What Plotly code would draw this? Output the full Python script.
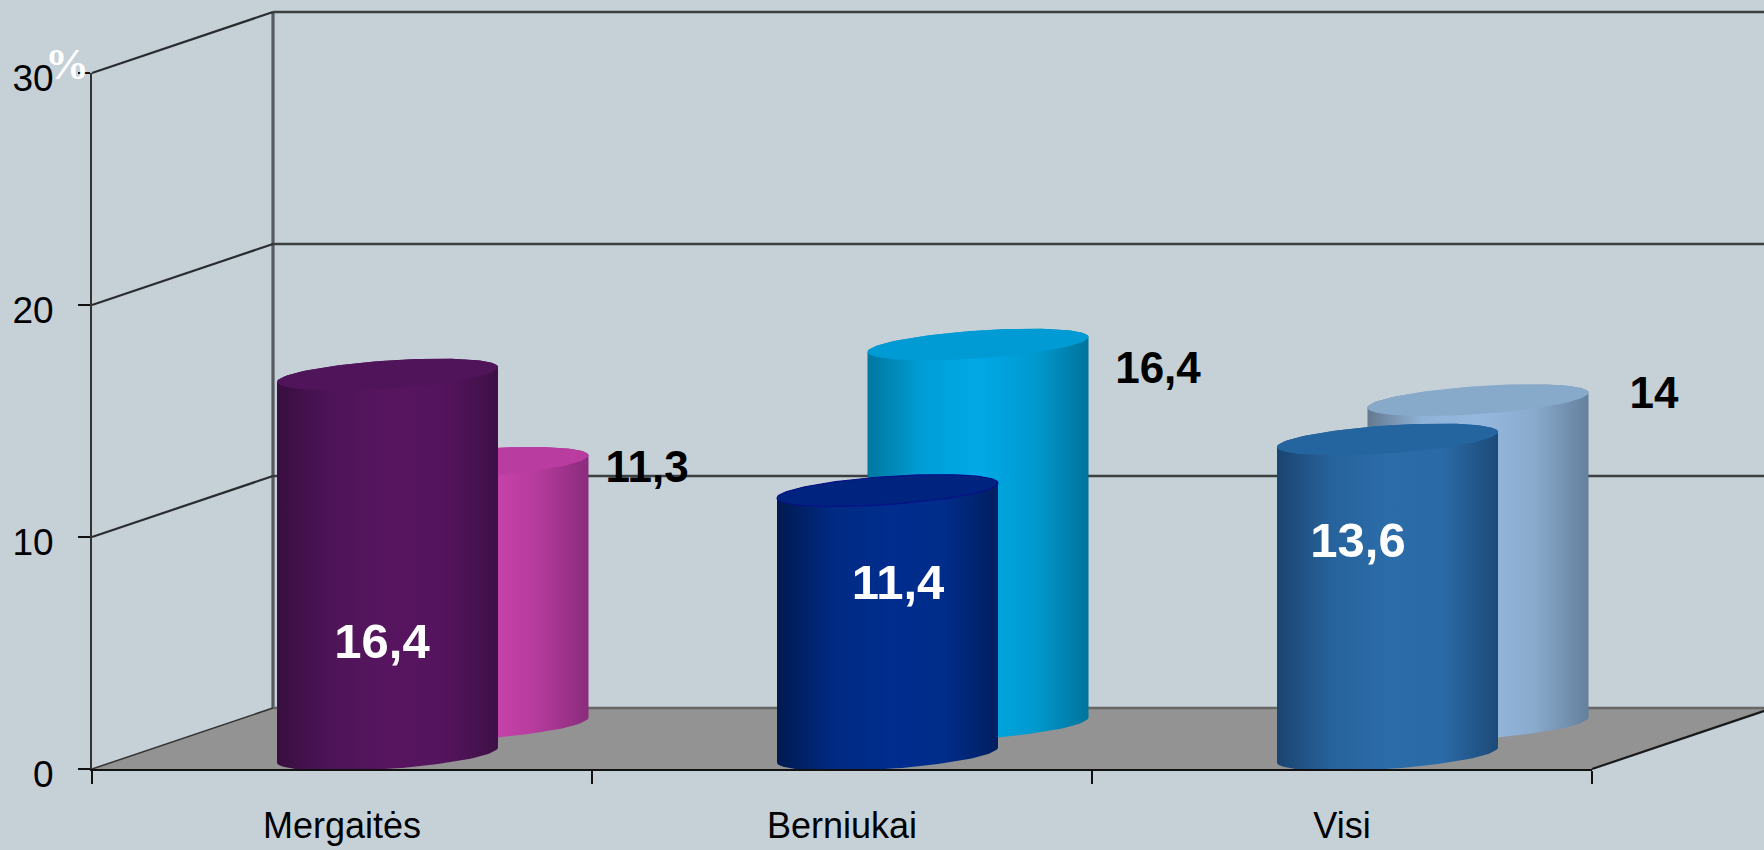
import numpy as np
import plotly.graph_objects as go

# ---- data ----
categories = ["Mergaitės", "Berniukai", "Visi"]
front_values = [16.4, 11.4, 13.6]
back_values = [11.3, 16.4, 14.0]
front_labels = ["16,4", "11,4", "13,6"]
back_labels = ["11,3", "16,4", "14"]
y_ticks = [0, 10, 20, 30]

# ---- styles ----
FRONT_STYLE = [
    dict(body=["#380e3f", "#4e1458", "#57155f", "#55145e", "#3e1046"], cap="#50145a", edge=None),
    dict(body=["#001a50", "#002a82", "#002d8e", "#002c8a", "#001f60"], cap="#00237f", edge="#0a1086"),
    dict(body=["#1a4470", "#27639c", "#2b6ca9", "#2a6aa6", "#1c4a78"], cap="#25659f", edge=None),
]
BACK_STYLE = [
    dict(body=["#7a2570", "#c03fa6", "#cc44b0", "#b83c9e", "#8a2c7c"], cap="#b93da0"),
    dict(body=["#00779f", "#009ed6", "#00a9e6", "#009ad0", "#00749c"], cap="#009bd5"),
    dict(body=["#64798f", "#8fb3d8", "#95b9de", "#8aabce", "#64809c"], cap="#88aaca"),
]
BG = "#c5d0d7"
FLOOR = "#939393"

# ---- geometry in axis units ----
W, H = 1764, 850
PX_X = 500.0   # pixels per category
PX_Y = 23.2    # pixels per value unit
X0_PX, Y0_PX = 92, 769
DEPTH_X, DEPTH_Y = 181 / PX_X, 61 / PX_Y
XR = [-X0_PX / PX_X, (W - X0_PX) / PX_X]
YR = [-(H - Y0_PX) / PX_Y, Y0_PX / PX_Y]

RX = 110.5 / PX_X     # cylinder half width
RY = 14 / PX_Y        # ellipse half height
SHEAR = 7.5 / PX_Y    # ellipse tilt
FRONT_CX, BACK_CX = 295.5 / PX_X, 386 / PX_X
FRONT_BASE, BACK_BASE = 14 / PX_Y, 44 / PX_Y

fig = go.Figure()


def line(xs, ys, color, width):
    fig.add_trace(go.Scatter(x=xs, y=ys, mode="lines", line=dict(color=color, width=width),
                             hoverinfo="skip", showlegend=False))


def ellipse(cx, cy, t):
    return cx + RX * np.cos(t), cy + RY * np.sin(t) + SHEAR * np.cos(t)


def gradient(colors):
    n = len(colors) - 1
    return [[i / n, c] for i, c in enumerate(colors)]


def cylinder(cx, base, value, body, cap, edge=None):
    top = base + value
    # silhouette: left side, lower half of the base ellipse, right side, upper half of the cap
    t_low = np.linspace(np.pi, 2 * np.pi, 60)
    t_up = np.linspace(0, np.pi, 60)
    bx, by = ellipse(cx, base, t_low)
    tx, ty = ellipse(cx, top, t_up)
    fig.add_trace(go.Scatter(
        x=np.r_[bx, tx], y=np.r_[by, ty], mode="lines", fill="toself", line=dict(width=0),
        fillgradient=dict(type="horizontal", colorscale=gradient(body)),
        hoverinfo="skip", showlegend=False))
    t = np.linspace(0, 2 * np.pi, 120)
    cx_, cy_ = ellipse(cx, top, t)
    fig.add_trace(go.Scatter(
        x=cx_, y=cy_, mode="lines", fill="toself", fillcolor=cap,
        line=dict(width=1.2 if edge else 0, color=edge or cap),
        hoverinfo="skip", showlegend=False))


# floor
fig.add_trace(go.Scatter(
    x=[0, 3, 3 + DEPTH_X, DEPTH_X, 0], y=[0, 0, DEPTH_Y, DEPTH_Y, 0], mode="lines", fill="toself",
    fillcolor=FLOOR, line=dict(width=0), hoverinfo="skip", showlegend=False))

# walls and gridlines
line([DEPTH_X, DEPTH_X], [DEPTH_Y, 30 + DEPTH_Y], "#555b5f", 3.2)
for v in y_ticks:
    if v == 0:
        line([DEPTH_X, 3 + DEPTH_X], [DEPTH_Y, DEPTH_Y], "#666666", 2.5)
        line([0, DEPTH_X], [0, DEPTH_Y], "#333333", 1.5)
    else:
        line([DEPTH_X, 3 + DEPTH_X], [v + DEPTH_Y, v + DEPTH_Y], "#3a3f42", 2.4)
        line([0, DEPTH_X], [v, v + DEPTH_Y], "#2a2d2f", 2.2)
line([3, 3 + DEPTH_X], [0, DEPTH_Y], "#1a1a1a", 2.2)

# cylinders
for i in range(len(categories)):
    cylinder(i + BACK_CX, BACK_BASE, back_values[i], BACK_STYLE[i]["body"], BACK_STYLE[i]["cap"])
    cylinder(i + FRONT_CX, FRONT_BASE, front_values[i], FRONT_STYLE[i]["body"],
             FRONT_STYLE[i]["cap"], FRONT_STYLE[i]["edge"])

# value labels
FRONT_LABEL_X = [0.58, 1.612, 2.532]
FRONT_LABEL_Y = [5.3, 7.85, 9.65]
BACK_LABEL_X = [1.11, 2.132, 3.124]
BACK_LABEL_Y = [12.85, 17.1, 16.05]
fig.add_trace(go.Scatter(
    x=FRONT_LABEL_X, y=FRONT_LABEL_Y, mode="text", text=front_labels, textposition="middle center",
    textfont=dict(family="Liberation Sans", size=49, color="white", weight="bold"),
    hoverinfo="skip", showlegend=False))
fig.add_trace(go.Scatter(
    x=BACK_LABEL_X, y=BACK_LABEL_Y, mode="text", text=back_labels, textposition="middle center",
    textfont=dict(family="Liberation Sans", size=44, color="black", weight="bold"),
    hoverinfo="skip", showlegend=False))

# real axes, on a second subplot that spans the front plane
fig.add_trace(go.Scatter(x=[0, 3], y=[0, 30], xaxis="x2", yaxis="y2", mode="markers",
                         marker=dict(opacity=0), hoverinfo="skip", showlegend=False))

fig.update_layout(
    width=W, height=H, autosize=False,
    margin=dict(l=0, r=0, t=0, b=0),
    paper_bgcolor=BG, plot_bgcolor="rgba(0,0,0,0)",
    showlegend=False,
    xaxis=dict(visible=False, range=XR, domain=[0, 1], fixedrange=True, automargin=False),
    yaxis=dict(visible=False, range=YR, domain=[0, 1], fixedrange=True, automargin=False),
    xaxis2=dict(
        domain=[X0_PX / W, 1592 / W], range=[0, 3], anchor="y2", showgrid=False, zeroline=False,
        automargin=False,
        showline=True, linecolor="#111111", linewidth=2,
        tickvals=[0.5, 1.5, 2.5], ticktext=categories, ticks="", ticklabelstandoff=24,
        tickfont=dict(family="Liberation Sans", size=36, color="black"),
        minor=dict(tickvals=[0, 1, 2, 3], ticks="outside", ticklen=13, tickwidth=2, tickcolor="#111111"),
    ),
    yaxis2=dict(
        domain=[(H - Y0_PX) / H, (H - 73) / H], range=[0, 30], anchor="x2", showgrid=False, zeroline=False,
        automargin=False,
        showline=True, linecolor="#333333", linewidth=2,
        tickvals=y_ticks, ticks="outside", ticklen=12, tickwidth=2, tickcolor="#111111",
        ticklabelstandoff=17, ticklabelshift=5,
        tickfont=dict(family="Liberation Sans", size=37, color="black"),
    ),
    annotations=[dict(
        text="%", xref="paper", yref="paper", x=67 / W, y=1 - 65 / H, xanchor="center", yanchor="middle",
        showarrow=False, font=dict(family="Liberation Serif", size=44, color="white", weight="bold"),
    )],
)

fig.write_html(
    "out.html",
    config=dict(displayModeBar=False),
    post_script="document.documentElement.style.overflow='hidden';document.body.style.margin='0';"
                "document.body.style.background='" + BG + "';",
)
